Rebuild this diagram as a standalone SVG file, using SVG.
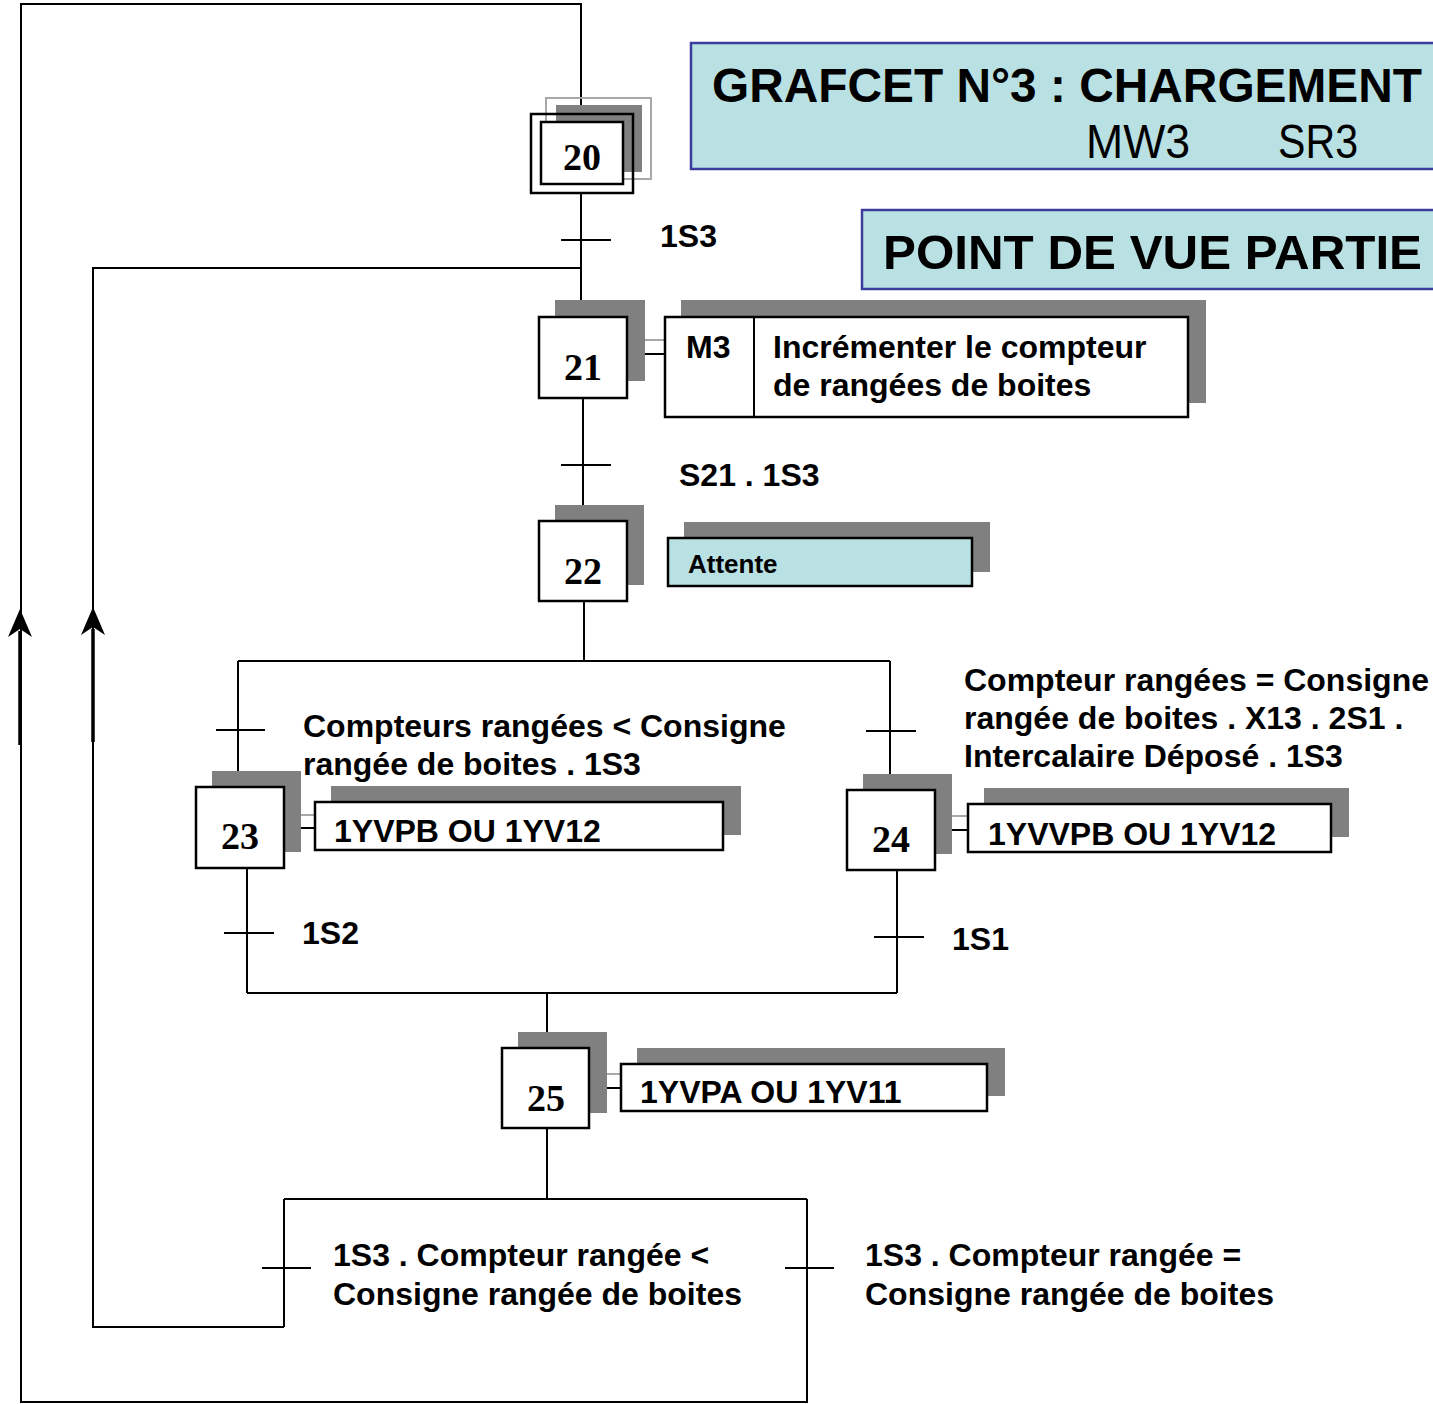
<svg xmlns="http://www.w3.org/2000/svg" width="1433" height="1404" viewBox="0 0 1433 1404">
  <defs>
    <style>
      .ln { stroke: #000; stroke-width: 2; fill: none; }
      .thick { stroke: #000; stroke-width: 3.5; fill: none; }
      .step { fill: #fff; stroke: #000; stroke-width: 2.5; }
      .shadow { fill: #808080; }
      .act { fill: #fff; stroke: #000; stroke-width: 2.5; }
      .act-blue { fill: #b9e0e3; stroke: #000; stroke-width: 2.5; }
      .link-shadow { stroke: #a8a8a8; stroke-width: 2; }
      .num { font-family: "Liberation Serif", serif; font-weight: bold; font-size: 38px; text-anchor: middle; }
      .lbl { font-family: "Liberation Sans", Arial, sans-serif; font-weight: bold; font-size: 32px; fill: #000; }
      .title-box { fill: #b9e0e3; stroke: #3c3c9c; stroke-width: 2.5; }
      .title { font-family: "Liberation Sans", Arial, sans-serif; font-weight: bold; font-size: 48px; fill: #000; }
      .sub { font-family: "Liberation Sans", Arial, sans-serif; font-size: 48px; fill: #000; }
    </style>
    <marker id="arr" viewBox="0 0 28 24" refX="6" refY="12" markerWidth="28" markerHeight="24" markerUnits="userSpaceOnUse" orient="auto">
      <path d="M0 0 L28 12 L0 24 L8 12 Z" fill="#000"/>
    </marker>
  </defs>

  <!-- title panels -->
  <g id="title">
    <rect class="title-box" x="691" y="43" width="750" height="126"/>
    <text class="title" x="712" y="102" textLength="710" lengthAdjust="spacingAndGlyphs">GRAFCET N°3 : CHARGEMENT</text>
    <text class="sub" x="1086" y="158" textLength="104" lengthAdjust="spacingAndGlyphs">MW3</text>
    <text class="sub" x="1278" y="158" textLength="80" lengthAdjust="spacingAndGlyphs">SR3</text>
  </g>
  <g id="subtitle">
    <rect class="title-box" x="862" y="210" width="580" height="79"/>
    <text class="title" x="883" y="269" textLength="539" lengthAdjust="spacingAndGlyphs">POINT DE VUE PARTIE</text>
  </g>

  <!-- links, transitions and loop-backs -->
  <g id="connectors">
    <!-- outer loop back to step 20 -->
    <polyline class="ln" points="807,1199 807,1402 21,1402 21,4 581,4 581,114"/>
    <line class="thick" x1="20" y1="745" x2="20" y2="631" marker-end="url(#arr)"/>
    <!-- inner loop back to step 21 -->
    <polyline class="ln" points="284,1327 93,1327 93,268 581,268"/>
    <line class="thick" x1="93" y1="742" x2="93" y2="629" marker-end="url(#arr)"/>

    <!-- 20 -> 21 -->
    <line class="ln" x1="581" y1="193" x2="581" y2="317"/>
    <line class="ln" x1="561" y1="240" x2="611" y2="240"/>
    <!-- 21 -> 22 -->
    <line class="ln" x1="583" y1="398" x2="583" y2="521"/>
    <line class="ln" x1="561" y1="465" x2="611" y2="465"/>
    <!-- 22 -> OR divergence -->
    <line class="ln" x1="584" y1="601" x2="584" y2="661"/>
    <line class="ln" x1="238" y1="661" x2="890" y2="661"/>
    <!-- branch to 23 -->
    <line class="ln" x1="238" y1="661" x2="238" y2="787"/>
    <line class="ln" x1="216" y1="730" x2="265" y2="730"/>
    <!-- branch to 24 -->
    <line class="ln" x1="890" y1="661" x2="890" y2="790"/>
    <line class="ln" x1="866" y1="731" x2="916" y2="731"/>
    <!-- 23 -> convergence -->
    <line class="ln" x1="247" y1="868" x2="247" y2="993"/>
    <line class="ln" x1="224" y1="933" x2="274" y2="933"/>
    <!-- 24 -> convergence -->
    <line class="ln" x1="897" y1="870" x2="897" y2="993"/>
    <line class="ln" x1="874" y1="937" x2="924" y2="937"/>
    <line class="ln" x1="247" y1="993" x2="897" y2="993"/>
    <!-- -> 25 -->
    <line class="ln" x1="547" y1="993" x2="547" y2="1048"/>
    <!-- 25 -> final divergence -->
    <line class="ln" x1="547" y1="1128" x2="547" y2="1199"/>
    <line class="ln" x1="284" y1="1199" x2="807" y2="1199"/>
    <line class="ln" x1="284" y1="1199" x2="284" y2="1327"/>
    <line class="ln" x1="262" y1="1268" x2="311" y2="1268"/>
    <line class="ln" x1="785" y1="1268" x2="834" y2="1268"/>

    <!-- step-to-action links (partly hidden by the step shadows) -->
    <line class="ln" x1="627" y1="354" x2="665" y2="354"/>
    <line class="link-shadow" x1="644" y1="340" x2="665" y2="340"/>
    <line class="ln" x1="284" y1="828" x2="315" y2="828"/>
    <line class="link-shadow" x1="301" y1="815" x2="315" y2="815"/>
    <line class="ln" x1="935" y1="830" x2="968" y2="830"/>
    <line class="link-shadow" x1="952" y1="816" x2="968" y2="816"/>
    <line class="ln" x1="589" y1="1088" x2="621" y2="1088"/>
    <line class="link-shadow" x1="607" y1="1074" x2="621" y2="1074"/>
  </g>

  <!-- transition conditions -->
  <g id="conditions">
    <text class="lbl" x="660" y="247">1S3</text>
    <text class="lbl" x="679" y="486">S21 . 1S3</text>
    <text class="lbl" x="303" y="737">Compteurs rangées &lt; Consigne</text>
    <text class="lbl" x="303" y="775">rangée de boites . 1S3</text>
    <text class="lbl" x="964" y="691">Compteur rangées = Consigne</text>
    <text class="lbl" x="964" y="729">rangée de boites . X13 . 2S1 .</text>
    <text class="lbl" x="964" y="767">Intercalaire Déposé . 1S3</text>
    <text class="lbl" x="302" y="944">1S2</text>
    <text class="lbl" x="952" y="950">1S1</text>
    <text class="lbl" x="333" y="1266">1S3 . Compteur rangée &lt;</text>
    <text class="lbl" x="333" y="1305">Consigne rangée de boites</text>
    <text class="lbl" x="865" y="1266">1S3 . Compteur rangée =</text>
    <text class="lbl" x="865" y="1305">Consigne rangée de boites</text>
  </g>

  <!-- initial step 20 -->
  <g id="step20">
    <rect class="shadow" x="556" y="105" width="86" height="67"/>
    <rect x="546" y="98" width="105" height="81" fill="none" stroke="#a8a8a8" stroke-width="2"/>
    <rect x="531" y="114" width="102" height="79" fill="none" stroke="#000" stroke-width="2.5"/>
    <rect class="step" x="541" y="122" width="82" height="62"/>
    <text class="num" x="582" y="170">20</text>
  </g>

  <!-- step 21 + action -->
  <g id="step21">
    <rect class="shadow" x="555" y="300" width="90" height="81"/>
    <rect class="step" x="539" y="317" width="88" height="81"/>
    <text class="num" x="583" y="380">21</text>
  </g>
  <g id="action21">
    <rect class="shadow" x="681" y="300" width="525" height="103"/>
    <rect class="act" x="665" y="317" width="523" height="100"/>
    <line class="ln" x1="754" y1="317" x2="754" y2="417"/>
    <text class="lbl" x="686" y="358">M3</text>
    <text class="lbl" x="773" y="358">Incrémenter le compteur</text>
    <text class="lbl" x="773" y="396">de rangées de boites</text>
  </g>

  <!-- step 22 + action -->
  <g id="step22">
    <rect class="shadow" x="555" y="505" width="89" height="80"/>
    <rect class="step" x="539" y="521" width="88" height="80"/>
    <text class="num" x="583" y="584">22</text>
  </g>
  <g id="action22">
    <rect class="shadow" x="684" y="522" width="306" height="50"/>
    <rect class="act-blue" x="668" y="538" width="304" height="48"/>
    <text class="lbl" x="688" y="573" style="font-size:26px">Attente</text>
  </g>

  <!-- step 23 + action -->
  <g id="step23">
    <rect class="shadow" x="212" y="771" width="89" height="81"/>
    <rect class="step" x="196" y="787" width="88" height="81"/>
    <text class="num" x="240" y="849">23</text>
  </g>
  <g id="action23">
    <rect class="shadow" x="331" y="786" width="410" height="49"/>
    <rect class="act" x="315" y="802" width="408" height="48"/>
    <text class="lbl" x="334" y="842">1YVPB OU 1YV12</text>
  </g>

  <!-- step 24 + action -->
  <g id="step24">
    <rect class="shadow" x="863" y="774" width="89" height="80"/>
    <rect class="step" x="847" y="790" width="88" height="80"/>
    <text class="num" x="891" y="852">24</text>
  </g>
  <g id="action24">
    <rect class="shadow" x="984" y="788" width="365" height="49"/>
    <rect class="act" x="968" y="804" width="363" height="48"/>
    <text class="lbl" x="988" y="845">1YVVPB OU 1YV12</text>
  </g>

  <!-- step 25 + action -->
  <g id="step25">
    <rect class="shadow" x="518" y="1032" width="89" height="81"/>
    <rect class="step" x="502" y="1048" width="87" height="80"/>
    <text class="num" x="546" y="1111">25</text>
  </g>
  <g id="action25">
    <rect class="shadow" x="637" y="1048" width="368" height="48"/>
    <rect class="act" x="621" y="1064" width="366" height="47"/>
    <text class="lbl" x="640" y="1103">1YVPA OU 1YV11</text>
  </g>
</svg>
